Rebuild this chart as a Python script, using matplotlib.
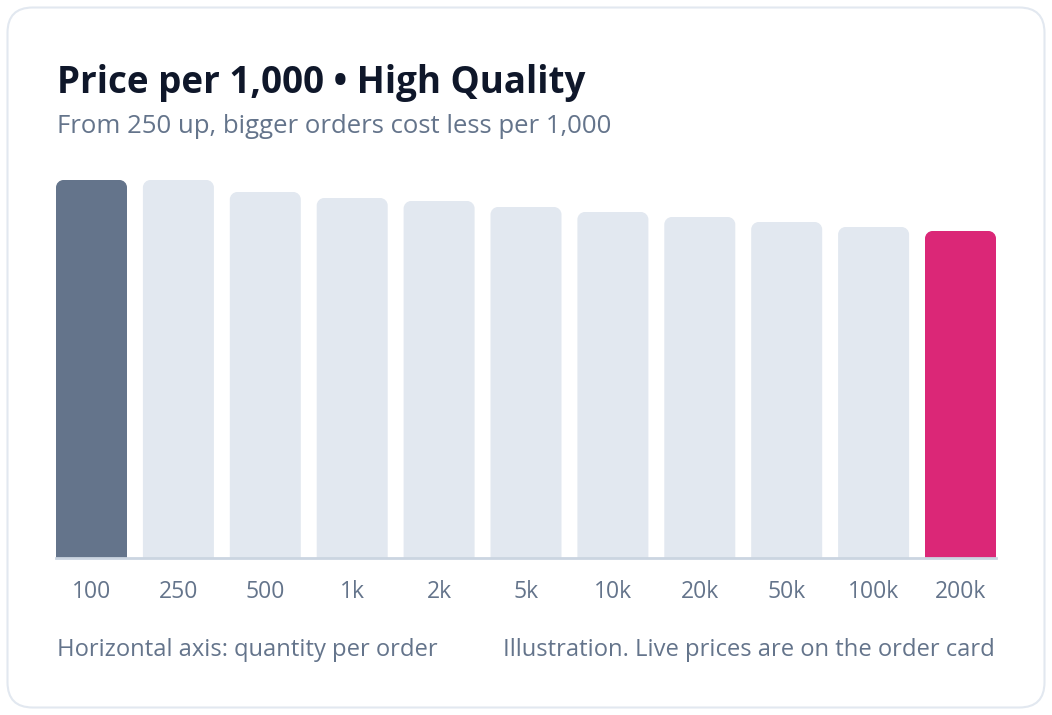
import matplotlib
matplotlib.use("Agg")
import matplotlib.pyplot as plt
from matplotlib.patches import FancyBboxPatch, PathPatch
from matplotlib.path import Path
from matplotlib.transforms import IdentityTransform

# ---- data ----
quantities = ["100", "250", "500", "1k", "2k", "5k", "10k", "20k", "50k", "100k", "200k"]
price_per_1000 = [378, 378, 366, 360, 357, 351, 346, 341, 336, 331, 327]  # relative units
bar_colors = ["#64748b"] + ["#e2e8f0"] * 9 + ["#db2777"]

title = "Price per 1,000 • High Quality"
subtitle = "From 250 up, bigger orders cost less per 1,000"
footer_left = "Horizontal axis: quantity per order"
footer_right = "Illustration. Live prices are on the order card"

W, H = 1052, 715
DPI = 100
fig = plt.figure(figsize=(W / DPI, H / DPI), dpi=DPI)
fig.patch.set_facecolor("white")

FONT = ["Open Sans", "DejaVu Sans"]

# card
card = FancyBboxPatch((7.5 / W, 7.5 / H), (1037) / W, (700) / H,
                      boxstyle="round,pad=0,rounding_size=0.024",
                      transform=fig.transFigure, facecolor="white",
                      edgecolor="#e2e8f0", linewidth=1.5, mutation_aspect=W / H,
                      zorder=-5)
fig.patches.append(card)

def px(x, y):
    return x / W, 1 - y / H

# axes: left 56, right 996, top 180, bottom 558
left, right, top, bottom = 56, 996, 180, 558
ax = fig.add_axes([left / W, 1 - bottom / H, (right - left) / W, (bottom - top) / H])
ax.set_facecolor("none")
n = len(quantities)
wfrac = 71 / 86.9
xs = list(range(n))
bars = ax.bar(xs, price_per_1000, width=wfrac, color=bar_colors, linewidth=0)
ax.set_xlim(-wfrac / 2, n - 1 + wfrac / 2)
ax.set_ylim(0, max(price_per_1000))
for s in ax.spines.values():
    s.set_visible(False)
ax.set_yticks([])
ax.set_xticks(xs)
ax.set_xticklabels(quantities)
ax.tick_params(axis="x", length=0, pad=15.5, labelsize=16.5, labelcolor="#64748b")
for lab in ax.get_xticklabels():
    lab.set_family(FONT)
ax.axhline(0, color="#cbd5e1", linewidth=2, clip_on=False, zorder=5)

# rounded top corners in pixel space
fig.canvas.draw()
r = 7.5
for b in bars:
    x0, y0 = b.get_x(), b.get_y()
    x1, y1 = x0 + b.get_width(), y0 + b.get_height()
    (X0, Y0), (X1, Y1) = ax.transData.transform([(x0, y0), (x1, y1)])
    k = 0.5523 * r
    verts = [(X0, Y0), (X0, Y1 - r), (X0, Y1 - r + k), (X0 + r - k, Y1), (X0 + r, Y1),
             (X1 - r, Y1), (X1 - r + k, Y1), (X1, Y1 - r + k), (X1, Y1 - r),
             (X1, Y0), (X0, Y0)]
    codes = [Path.MOVETO, Path.LINETO, Path.CURVE4, Path.CURVE4, Path.CURVE4,
             Path.LINETO, Path.CURVE4, Path.CURVE4, Path.CURVE4,
             Path.LINETO, Path.CLOSEPOLY]
    p = PathPatch(Path(verts, codes), facecolor=b.get_facecolor(), edgecolor="none",
                  transform=IdentityTransform(), clip_on=False, zorder=2)
    ax.add_artist(p)
    b.set_visible(False)

renderer = fig.canvas.get_renderer()

def fit_text(x, y, s, width, size, ha="left", **kw):
    t = fig.text(*px(x, y), s, ha=ha, va="baseline", fontsize=size, family=FONT, **kw)
    for _ in range(3):
        w = t.get_window_extent(renderer).width
        size = size * width / w
        t.set_fontsize(size)
    return t

fit_text(57, 93, title, 527, 24, color="#0f172a", fontweight="bold")
fit_text(57, 133, subtitle, 556, 16, color="#64748b")
fit_text(57, 656, footer_left, 381, 15, color="#64748b")
fit_text(995, 656, footer_right, 492, 15, ha="right", color="#64748b")

fig.savefig("out.png", dpi=DPI, facecolor="white")
